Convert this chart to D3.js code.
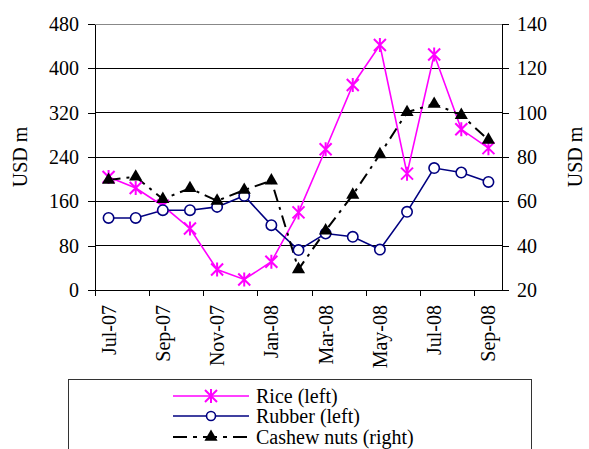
<!DOCTYPE html>
<html><head><meta charset="utf-8">
<script src="https://cdn.jsdelivr.net/npm/d3@7"></script>
<style>body{margin:0;background:#fff}svg{display:block}</style>
</head><body><svg id="c" width="589" height="449"></svg>
<script>
const months = ["Jul-07","Aug-07","Sep-07","Oct-07","Nov-07","Dec-07","Jan-08","Feb-08","Mar-08","Apr-08","May-08","Jun-08","Jul-08","Aug-08","Sep-08"];
const rice = [204,184,152,111,37,19,51,140,254,370,442,210,425,290,256];
const rubber = [130,130,144,144,150,170,117,72,102,96,73,141,220,212,195];
const cashew = [69.6,71.1,61,65.9,60.2,65.1,69.3,29.3,46.8,62.9,81.2,100.2,103.9,98.9,87.7];
const leftTicks = [0,80,160,240,320,400,480];
const rightTicks = [20,40,60,80,100,120,140];
const labelMonths = ["Jul-07","Sep-07","Nov-07","Jan-08","Mar-08","May-08","Jul-08","Sep-08"];

const FONT = "Liberation Serif, DejaVu Serif, serif";
const svg = d3.select("#c");
const L = 95, R = 502, T = 24, B = 290;
const x = d3.scaleBand().domain(months).range([L, R]).padding(0);
const yl = d3.scaleLinear().domain([0,480]).range([B, T]);
const yr = d3.scaleLinear().domain([20,140]).range([B, T]);
const cx = d => x(d) + x.bandwidth()/2;

svg.append("g").selectAll("line").data(leftTicks.filter(v=>v>0)).join("line")
  .attr("x1", L).attr("x2", R).attr("y1", d=>yl(d)).attr("y2", d=>yl(d))
  .attr("stroke", d => d===480 ? "#888" : "#000").attr("stroke-width", 1).attr("shape-rendering","crispEdges");

const gl = svg.append("g").attr("transform", `translate(${L},0)`)
  .call(d3.axisLeft(yl).tickValues(leftTicks).tickSize(7).tickSizeOuter(0).tickPadding(9));
const gr = svg.append("g").attr("transform", `translate(${R},0)`)
  .call(d3.axisRight(yr).tickValues(rightTicks).tickSize(7).tickSizeOuter(0).tickPadding(8));
const gb = svg.append("g").attr("transform", `translate(0,${B})`)
  .call(d3.axisBottom(x).tickValues(labelMonths).tickSize(0).tickSizeOuter(0));
gb.selectAll("text").attr("transform","rotate(-90)").attr("x",-15).attr("y",0).attr("dy","0.35em").style("text-anchor","end");
svg.append("g").selectAll("line").data(months.filter((d,i)=>i%2===0)).join("line")
  .attr("x1", d=>x(d)).attr("x2", d=>x(d)).attr("y1", B).attr("y2", B+6)
  .attr("stroke","#000").attr("shape-rendering","crispEdges");

[gl, gr, gb].forEach(g => {
  g.attr("font-family", FONT).attr("font-size", 20);
  g.selectAll("text").attr("font-family", FONT).attr("font-size", 20).attr("fill","#000");
  g.selectAll("path,line").attr("stroke","#000").attr("shape-rendering","crispEdges");
});

svg.append("text").attr("transform","translate(27,157) rotate(-90)").attr("text-anchor","middle")
  .attr("font-family", FONT).attr("font-size",20).text("USD m");
svg.append("text").attr("transform","translate(582,157) rotate(-90)").attr("text-anchor","middle")
  .attr("font-family", FONT).attr("font-size",20).text("USD m");

const lineL = d3.line().x((d,i)=>cx(months[i])).y(d=>yl(d));
const lineR = d3.line().x((d,i)=>cx(months[i])).y(d=>yr(d));
const magenta = "#FF00FF", navy = "#000080";
const dash = "12,6,3,6";

svg.append("path").datum(rice).attr("d", lineL).attr("fill","none").attr("stroke",magenta).attr("stroke-width",1.6);
svg.append("path").datum(rubber).attr("d", lineL).attr("fill","none").attr("stroke",navy).attr("stroke-width",1.6);
svg.append("path").datum(cashew).attr("d", lineR).attr("fill","none").attr("stroke","#000").attr("stroke-width",2).attr("stroke-dasharray",dash);

function star(g, px, py){
  const s = 6;
  g.append("path").attr("d", `M${px-s},${py-s}L${px+s},${py+s}M${px-s},${py+s}L${px+s},${py-s}M${px},${py-s-1}L${px},${py+s+1}`)
    .attr("stroke",magenta).attr("stroke-width",2).attr("fill","none");
}
const gm = svg.append("g");
rice.forEach((v,i)=>star(gm, cx(months[i]), yl(v)));
svg.append("g").selectAll("circle").data(rubber).join("circle")
  .attr("cx",(d,i)=>cx(months[i])).attr("cy",d=>yl(d)).attr("r",5.2)
  .attr("fill","#fff").attr("stroke",navy).attr("stroke-width",1.6);
const tri = d3.symbol().type(d3.symbolTriangle).size(75);
svg.append("g").selectAll("path").data(cashew).join("path")
  .attr("transform",(d,i)=>`translate(${cx(months[i])},${yr(d)})`).attr("d",tri).attr("fill","#000");

svg.append("rect").attr("x",68.5).attr("y",379.5).attr("width",463).attr("height",90)
  .attr("fill","#fff").attr("stroke","#333").attr("stroke-width",1);
const leg = [
  {name:"Rice (left)", y:396, kind:"rice"},
  {name:"Rubber (left)", y:416, kind:"rubber"},
  {name:"Cashew nuts (right)", y:437, kind:"cashew"}
];
leg.forEach(l => {
  const g = svg.append("g");
  const ln = g.append("line").attr("x1",173).attr("x2",249).attr("y1",l.y).attr("y2",l.y).attr("stroke-width",l.kind==="cashew"?2:1.6);
  if (l.kind==="rice"){ ln.attr("stroke",magenta); star(g,211,l.y); }
  if (l.kind==="rubber"){ ln.attr("stroke",navy); g.append("circle").attr("cx",211).attr("cy",l.y).attr("r",4.5).attr("fill","#fff").attr("stroke",navy).attr("stroke-width",1.6); }
  if (l.kind==="cashew"){ ln.attr("stroke","#000").attr("stroke-dasharray","14,6,4,6"); g.append("path").attr("transform",`translate(211,${l.y})`).attr("d",tri).attr("fill","#000"); }
  g.append("text").attr("x",256).attr("y",l.y).attr("dy","0.33em").attr("font-family", FONT).attr("font-size",20).text(l.name);
});
</script></body></html>
